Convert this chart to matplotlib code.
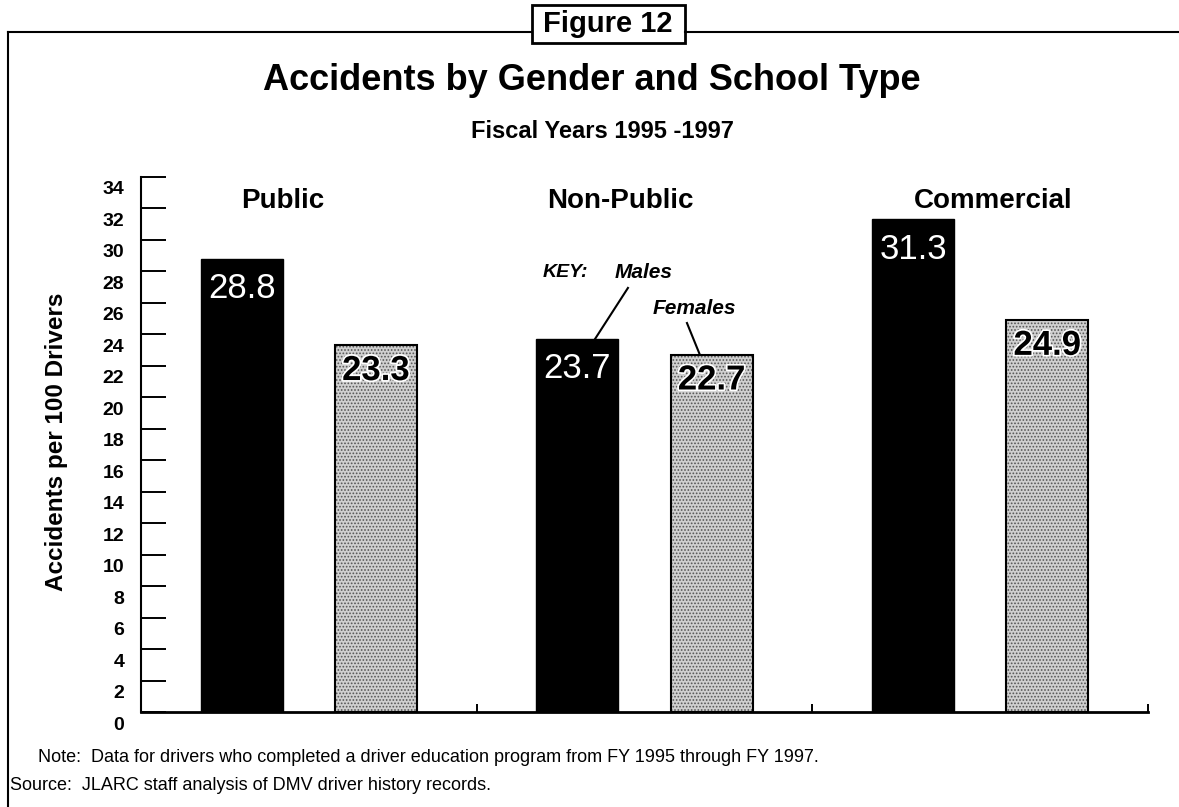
import matplotlib
matplotlib.use('Agg')
import matplotlib.pyplot as plt
import matplotlib.transforms as mtransforms
import matplotlib.patheffects as pe
from matplotlib.lines import Line2D
from matplotlib.patches import Rectangle
from matplotlib import font_manager

schools = ['Public', 'Non-Public', 'Commercial']
males = [28.8, 23.7, 31.3]
females = [23.3, 22.7, 24.9]
yticks = list(range(0, 35, 2))

names = {f.name for f in font_manager.fontManager.ttflist}
narrow = 'Liberation Sans Narrow' if 'Liberation Sans Narrow' in names else 'Liberation Sans'
plt.rcParams['font.family'] = ['Liberation Sans', 'DejaVu Sans']
plt.rcParams['hatch.linewidth'] = 0.8

W, H = 1179, 807
fig = plt.figure(figsize=(W / 100, H / 100), dpi=100)


def fx(px):
    return px / W


def fy(py):
    return 1 - py / H


ax = fig.add_axes([fx(141), fy(712), fx(1148) - fx(141), fy(177) - fy(712)])

x = list(range(len(schools)))
off, bw = 0.2, 0.244
xm = [i - off for i in x]
xf = [i + off for i in x]

ax.bar(xm, males, width=bw, color='black', edgecolor='black', linewidth=1)
ax.bar(xf, females, width=bw, color='#d0d0d0', edgecolor='#555555',
       hatch='.....', linewidth=0)
ax.bar(xf, females, width=bw, fill=False, edgecolor='black', linewidth=1.5)

for xi, v in zip(xm, males):
    ax.text(xi, v - 1.9, f'{v}', color='white', fontsize=25, family=narrow,
            ha='center', va='center')
for xi, v in zip(xf, females):
    ax.text(xi, v - 1.6, f'{v}', color='black', fontsize=25, family=narrow,
            fontweight='bold', ha='center', va='center',
            path_effects=[pe.withStroke(linewidth=2.5, foreground='white')])

# group headings
label_x = [-0.077, 0.927, 2.038]
for lx, name in zip(label_x, schools):
    ax.text(lx, 32.5, name, fontsize=20, fontweight='bold', ha='center', va='center')

# key
ax.text(0.6975, 27.96, 'KEY:', fontsize=14, fontweight='bold', style='italic',
        ha='left', va='center')
ax.text(0.912, 27.96, 'Males', fontsize=15, fontweight='bold', style='italic',
        ha='left', va='center')
ax.text(1.025, 25.67, 'Females', fontsize=15, fontweight='bold', style='italic',
        ha='left', va='center')
ax.plot([0.9507, 0.8524], [26.95, males[1]], color='black', lw=1.5)
ax.plot([1.1265, 1.165], [24.72, females[1]], color='black', lw=1.5)

ax.set_xlim(-0.5, 2.5)
ax.set_ylim(0, 34)
ax.set_yticks(yticks)
ax.set_yticklabels([str(t) for t in yticks], fontsize=14, fontweight='bold')
ax.tick_params(axis='y', direction='in', length=18, width=1.4, pad=12)
ax.set_xticks([0.5, 1.5, 2.5])
ax.set_xticklabels([])
ax.tick_params(axis='x', direction='in', length=6, width=1.4)
shift = mtransforms.ScaledTranslation(0, -0.11, fig.dpi_scale_trans)
for lab in ax.get_yticklabels():
    lab.set_transform(lab.get_transform() + shift)
for s in ['top', 'right']:
    ax.spines[s].set_visible(False)
ax.spines['left'].set_linewidth(1.5)
ax.spines['bottom'].set_linewidth(2)

fig.text(fx(57), fy(442), 'Accidents per 100 Drivers', rotation=90, fontsize=17.5,
         fontweight='bold', ha='center', va='center')

# titles
fig.text(fx(592), fy(80), 'Accidents by Gender and School Type', fontsize=26,
         fontweight='bold', ha='center', va='center')
fig.text(fx(602), fy(132), 'Fiscal Years 1995 -1997', fontsize=17,
         fontweight='bold', ha='center', va='center')

# frame with figure number box
fig.add_artist(Line2D([fx(8), fx(532)], [fy(32), fy(32)], color='black', lw=1.5))
fig.add_artist(Line2D([fx(685), fx(1179)], [fy(32), fy(32)], color='black', lw=1.5))
fig.add_artist(Line2D([fx(8), fx(8)], [fy(32), fy(807)], color='black', lw=1.5))
fig.add_artist(Rectangle((fx(532), fy(43)), fx(685) - fx(532), fy(5) - fy(43),
                         fill=False, edgecolor='black', lw=2, transform=fig.transFigure))
fig.text(fx(608), fy(24), 'Figure 12', fontsize=21, fontweight='bold',
         ha='center', va='center')

fig.text(fx(38), fy(757), 'Note:  Data for drivers who completed a driver education '
         'program from FY 1995 through FY 1997.', fontsize=13, ha='left', va='center')
fig.text(fx(10), fy(785), 'Source:  JLARC staff analysis of DMV driver history records.',
         fontsize=13, ha='left', va='center')

fig.savefig('out.png', dpi=100)
